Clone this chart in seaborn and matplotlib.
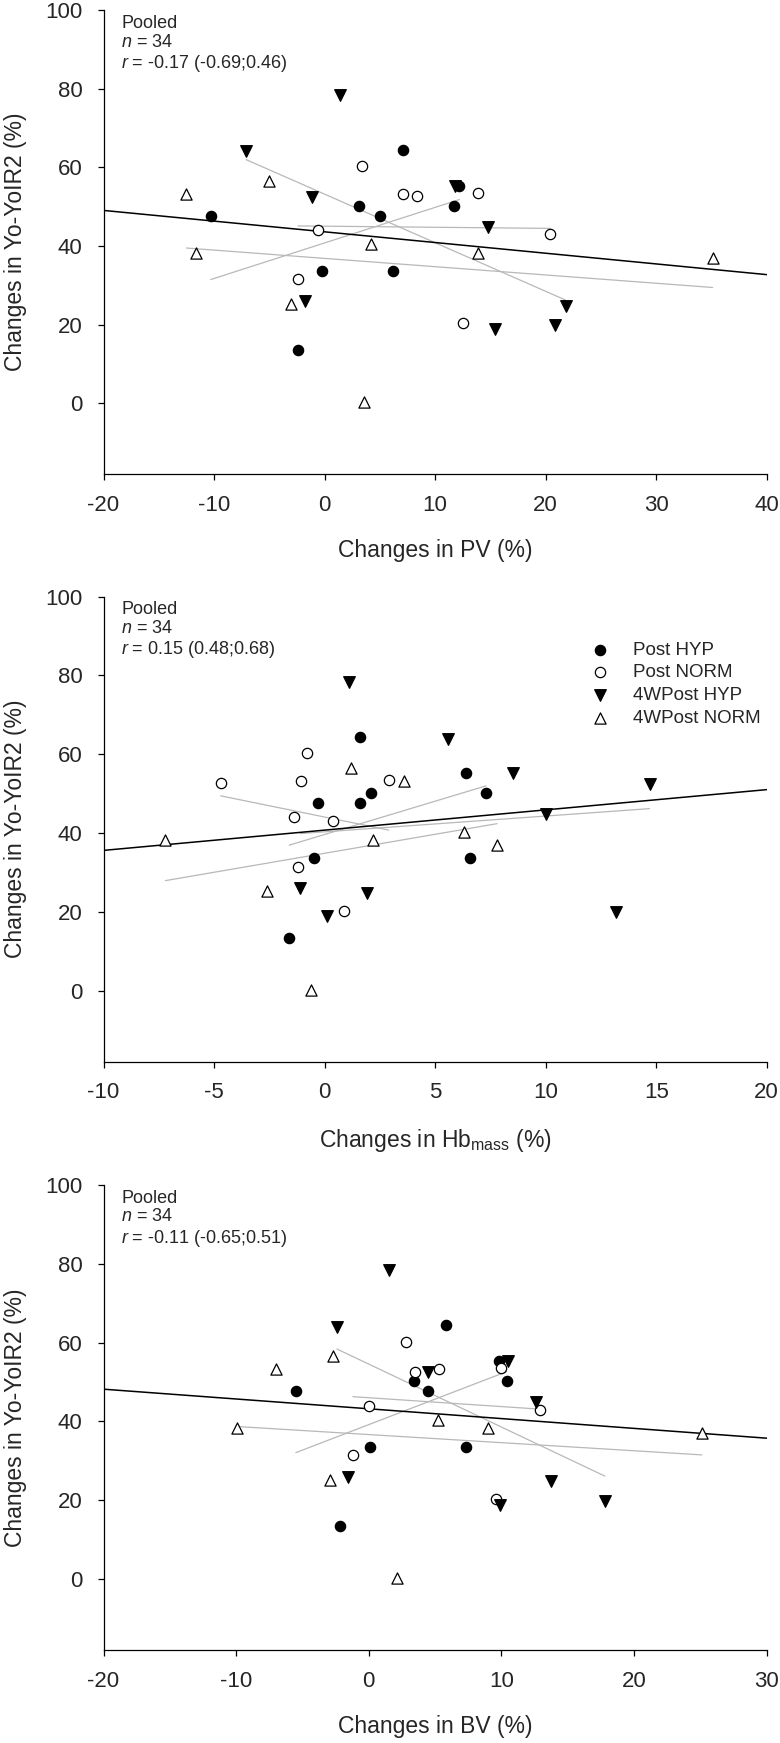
import numpy as np
import pandas as pd
import matplotlib
matplotlib.use('Agg')
import matplotlib.pyplot as plt
import seaborn as sns

sns.set_style('ticks')
plt.rcParams['font.family'] = ['Liberation Sans', 'DejaVu Sans']
plt.rcParams['mathtext.fontset'] = 'custom'
plt.rcParams['mathtext.rm'] = 'Liberation Sans'
plt.rcParams['mathtext.it'] = 'Liberation Sans:italic'
plt.rcParams['axes.unicode_minus'] = False

GROUPS = ['Post HYP', 'Post NORM', '4WPost HYP', '4WPost NORM']

# Yo-YoIR2 changes (%) per group, same subjects in every panel
yo_post_hyp = [64.5, 55.2, 50.2, 50.2, 47.6, 47.6, 33.6, 33.6, 13.5]
yo_post_norm = [60.2, 53.5, 53.2, 52.6, 44.0, 43.0, 31.5, 20.3]
yo_4w_hyp = [78.3, 64.0, 55.3, 52.5, 44.8, 26.0, 24.8, 19.9, 18.9]
yo_4w_norm = [56.6, 53.2, 40.4, 38.3, 38.3, 37.0, 25.2, 0.3]

# changes in PV (%)
pv_post_hyp = [7.1, 12.2, 3.1, 11.7, -10.3, 5.0, -0.2, 6.2, -2.4]
pv_post_norm = [3.4, 13.9, 7.1, 8.4, -0.6, 20.4, -2.4, 12.5]
pv_4w_hyp = [1.4, -7.1, 11.8, -1.1, 14.8, -1.8, 21.8, 20.8, 15.4]
pv_4w_norm = [-5.0, -12.5, 4.2, -11.6, 13.9, 35.1, -3.0, 3.6]

# changes in Hbmass (%)
hb_post_hyp = [1.6, 6.4, 2.1, 7.3, -0.3, 1.6, -0.5, 6.6, -1.6]
hb_post_norm = [-0.8, 2.9, -1.05, -4.7, -1.4, 0.4, -1.2, 0.9]
hb_4w_hyp = [1.1, 5.6, 8.5, 14.7, 10.0, -1.1, 1.9, 13.2, 0.1]
hb_4w_norm = [1.2, 3.6, 6.3, -7.2, 2.2, 7.8, -2.6, -0.6]

# changes in BV (%)
bv_post_hyp = [5.8, 9.8, 3.4, 10.4, -5.5, 4.5, 0.1, 7.3, -2.2]
bv_post_norm = [2.8, 10.0, 5.3, 3.5, 0.0, 12.9, -1.2, 9.6]
bv_4w_hyp = [1.5, -2.4, 10.5, 4.5, 12.6, -1.6, 13.7, 17.8, 9.9]
bv_4w_norm = [-2.7, -7.0, 5.2, -9.9, 9.0, 25.1, -2.9, 2.1]

X_LABELS = ['Changes in PV (%)', 'Changes in Hb$_{\\mathrm{mass}}$ (%)', 'Changes in BV (%)']
X_LIMS = [(-20, 40), (-10, 20), (-20, 30)]
X_STEPS = [10, 5, 10]
R_TEXTS = ['-0.17 (-0.69;0.46)', '0.15 (0.48;0.68)', '-0.11 (-0.65;0.51)']

# marker style per group: marker, face, size
STYLES = {
    'Post HYP': ('o', 'black', 55),
    'Post NORM': ('o', 'white', 55),
    '4WPost HYP': ('v', 'black', 70),
    '4WPost NORM': ('^', 'white', 65),
}


def make_df(xs_list):
    ys_list = [yo_post_hyp, yo_post_norm, yo_4w_hyp, yo_4w_norm]
    rows = []
    for g, xs, ys in zip(GROUPS, xs_list, ys_list):
        for x, y in zip(xs, ys):
            rows.append({'x': x, 'y': y, 'group': g})
    return pd.DataFrame(rows)


panels = [
    make_df([pv_post_hyp, pv_post_norm, pv_4w_hyp, pv_4w_norm]),
    make_df([hb_post_hyp, hb_post_norm, hb_4w_hyp, hb_4w_norm]),
    make_df([bv_post_hyp, bv_post_norm, bv_4w_hyp, bv_4w_norm]),
]

fig = plt.figure(figsize=(7.8, 17.43), dpi=100)
ax_rects = [
    [0.1327, 0.7281, 0.8503, 0.2662],
    [0.1327, 0.3909, 0.8503, 0.2668],
    [0.1327, 0.0534, 0.8503, 0.2668],
]

for i, df in enumerate(panels):
    ax = fig.add_axes(ax_rects[i])
    ax.set_xlim(*X_LIMS[i])
    ax.set_ylim(-18, 100)

    # per-group regression lines (grey) and pooled line (black)
    for g in GROUPS:
        sub = df[df['group'] == g]
        sns.regplot(x=sub['x'].values, y=sub['y'].values, scatter=False, ci=None,
                    truncate=True, ax=ax,
                    line_kws={'color': '#b8b8b8', 'lw': 0.9, 'zorder': 1})
    sns.regplot(x=df['x'].values, y=df['y'].values, scatter=False, ci=None,
                truncate=False, ax=ax,
                line_kws={'color': 'black', 'lw': 1.1, 'zorder': 2})

    for g in GROUPS:
        sub = df[df['group'] == g]
        mk, fc, s = STYLES[g]
        sns.scatterplot(x=sub['x'].values, y=sub['y'].values, marker=mk, s=s,
                        color='black', facecolor=fc, edgecolor='black',
                        linewidth=0.9, zorder=3, ax=ax, label=g, legend=False)

    ax.set_xlim(*X_LIMS[i])
    ax.set_ylim(-18, 100)
    ax.set_xticks(np.arange(X_LIMS[i][0], X_LIMS[i][1] + 1, X_STEPS[i]))
    ax.set_yticks(np.arange(0, 101, 20))
    sns.despine(ax=ax)
    for sp in ['left', 'bottom']:
        ax.spines[sp].set_linewidth(0.9)
        ax.spines[sp].set_color('black')
    ax.tick_params(direction='out', length=4.5, width=0.9, color='black',
                   labelsize=16, pad=10.5)
    ax.set_xlabel(X_LABELS[i], fontsize=16.5, labelpad=17)
    ax.set_ylabel('Changes in Yo-YoIR2 (%)', fontsize=16.5, labelpad=13)

    ax.text(0.027, 0.99, 'Pooled\n$n$ = 34\n$r$ = ' + R_TEXTS[i],
            transform=ax.transAxes, va='top', ha='left', fontsize=13,
            linespacing=1.15)

    if i == 1:
        ax.legend(loc='upper left', bbox_to_anchor=(0.7345, 0.9036), frameon=False,
                  fontsize=13.5, handlelength=1.0, handletextpad=1.28,
                  labelspacing=0.3, borderpad=0, borderaxespad=0)

fig.savefig('out.png', dpi=100)
